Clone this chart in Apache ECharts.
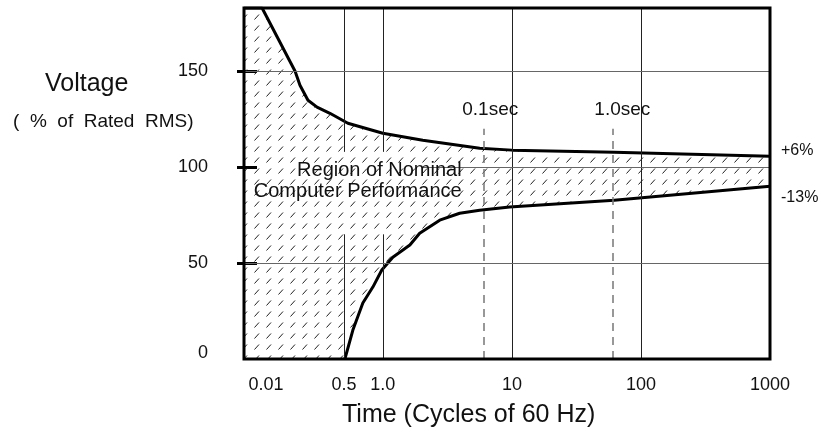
<!DOCTYPE html>
<html><head><meta charset="utf-8">
<script src="https://cdn.jsdelivr.net/npm/echarts@6/dist/echarts.min.js"></script>
<style>html,body{margin:0;padding:0;background:#fff}#c{width:821px;height:438px}</style>
</head><body><div id="c"></div>
<script>
// ---- data ----
const upperCycles  = [0.084, 0.116, 0.209, 0.228, 0.263, 0.309, 0.389, 0.536, 1.0, 2.04, 5.63, 10, 62, 1000];
const upperVoltage = [183,   183,   150,   142.7, 134.9, 131.3, 128.1, 122.9, 117.7, 114.1, 109.9, 108.9, 107.8, 105.7];
const lowerCycles  = [0.508, 0.586, 0.70, 0.837, 0.982, 1.195, 1.62, 1.93, 2.76, 3.94, 5.63, 9.6, 62, 1000];
const lowerVoltage = [0,     15.1,  29.2, 37.5,  46.4,  53.1,  59.4, 65.6, 72.4, 76,   77.6, 79.2, 82.8, 90.1];
const xTickValues = [0.1245, 0.5, 1, 10, 100, 1000];
const xTickLabels = ['0.01', '0.5', '1.0', '10', '100', '1000'];
const yTickValues = [0, 50, 100, 150];
const yMarkValues = [50, 100, 150];
const secCycles = [6, 60];
const secLabels = ['0.1sec', '1.0sec'];
const xMin = 0.084, xMax = 1000, yMin = 0, yMax = 183;

const FONT = 'Liberation Sans, Arial, sans-serif';
const TXT = '#111';

// hatch pattern
const pc = document.createElement('canvas');
pc.width = 12; pc.height = 11;
const g = pc.getContext('2d');
g.strokeStyle = '#222'; g.lineWidth = 1;
g.beginPath(); g.moveTo(2.5, 8.5); g.lineTo(7, 3.5); g.stroke();

const zip = (a, b) => a.map((v, i) => [v, b[i]]);

const chart = echarts.init(document.getElementById('c'), null, {renderer: 'canvas'});

const solidV = '#222', gridH = '#666', dashC = '#777';
const seg = (x1, y1, x2, y2, color, type, width) => [
  {coord: [x1, y1], lineStyle: {color: color, type: type || 'solid', width: width || 1}},
  {coord: [x2, y2]}
];

const gridLines = [
  seg(0.5, 0, 0.5, 65, solidV), seg(0.5, 108, 0.5, yMax, solidV),
  seg(1, 0, 1, 65, solidV), seg(1, 108, 1, yMax, solidV),
  seg(10, 0, 10, yMax, solidV), seg(100, 0, 100, yMax, solidV),
  seg(xMin, 50, xMax, 50, gridH), seg(2, 100, xMax, 100, gridH), seg(xMin, 150, xMax, 150, gridH),
  seg(secCycles[0], 0, secCycles[0], 120, dashC, [8, 6], 1.5),
  seg(secCycles[1], 0, secCycles[1], 120, dashC, [8, 6], 1.5)
];

const lbl = (coord, text, opts) => Object.assign({
  coord: coord, value: text,
  label: Object.assign({show: true, formatter: text, color: TXT, fontFamily: FONT}, opts)
});

chart.setOption({
  animation: false,
  backgroundColor: '#fff',
  grid: {left: 244, right: 51, top: 8, bottom: 79, show: true, borderColor: '#000', borderWidth: 3, backgroundColor: 'transparent', z: 10},
  xAxis: {
    type: 'log', min: xMin, max: xMax,
    axisLine: {show: false}, axisTick: {show: false}, splitLine: {show: false},
    axisLabel: {
      customValues: xTickValues,
      formatter: v => { const i = xTickValues.findIndex(t => Math.abs(t - v) < 1e-9 * Math.max(1, t)); return i >= 0 ? xTickLabels[i] : ''; },
      fontSize: 18, color: TXT, fontFamily: FONT, margin: 17
    }
  },
  yAxis: [{
    type: 'value', min: yMin, max: yMax, interval: 50,
    axisLine: {show: false}, splitLine: {show: false},
    axisTick: {show: true, customValues: yMarkValues, length: 7, lineStyle: {color: '#000', width: 3}},
    axisLabel: {
      customValues: yTickValues,
      formatter: v => v === 0 ? '{z|0}' : (yTickValues.indexOf(v) >= 0 ? String(v) : ''),
      rich: {z: {fontSize: 18, color: TXT, fontFamily: FONT, padding: [0, 0, 12, 0]}},
      fontSize: 18, color: TXT, fontFamily: FONT, margin: 36
    }
  }, {
    type: 'value', min: yMin, max: yMax, interval: 50, position: 'left',
    axisLine: {show: false}, splitLine: {show: false}, axisLabel: {show: false},
    axisTick: {show: true, inside: true, customValues: yMarkValues, length: 13, lineStyle: {color: '#000', width: 3}}
  }],
  series: [{
    type: 'line', data: zip(upperCycles, upperVoltage), symbol: 'none', z: 2,
    lineStyle: {color: '#000', width: 3},
    areaStyle: {color: {image: pc, repeat: 'repeat'}, opacity: 1}
  }, {
    type: 'line', data: zip(lowerCycles, lowerVoltage), symbol: 'none', z: 3,
    lineStyle: {color: '#000', width: 3},
    areaStyle: {color: '#fff', opacity: 1}
  }, {
    type: 'line', data: [], z: 4, clip: false, silent: true,
    markLine: {silent: true, symbol: ['none', 'none'], label: {show: false}, data: gridLines, animation: false}
  }, {
    type: 'line', data: [], z: 6, clip: false, silent: true,
    markPoint: {
      silent: true, symbol: 'circle', symbolSize: 0, itemStyle: {color: 'transparent'}, animation: false,
      data: [
        lbl([secCycles[0], 130], secLabels[0], {position: 'inside', offset: [7, 0], fontSize: 19}),
        lbl([secCycles[1], 130], secLabels[1], {position: 'inside', offset: [10, 0], fontSize: 19}),
        lbl([xMax, 108.9], '+6%', {position: 'right', distance: 11, fontSize: 16}),
        lbl([xMax, 84.4], '-13%', {position: 'right', distance: 11, fontSize: 16}),
        lbl([4.08, 93], 'Region of Nominal\nComputer Performance', {position: 'left', distance: 0, align: 'right', fontSize: 20, lineHeight: 21})
      ]
    }
  }],
  graphic: [
    {type: 'text', left: 45, top: 72, style: {text: 'Voltage', fontSize: 25, fontFamily: FONT, fill: TXT}},
    {type: 'text', left: 13, top: 112, style: {text: '(  %  of  Rated  RMS)', fontSize: 19, fontFamily: FONT, fill: TXT}},
    {type: 'text', left: 342, top: 403, style: {text: 'Time (Cycles of 60 Hz)', fontSize: 25, fontFamily: FONT, fill: TXT}}
  ]
});
</script></body></html>
